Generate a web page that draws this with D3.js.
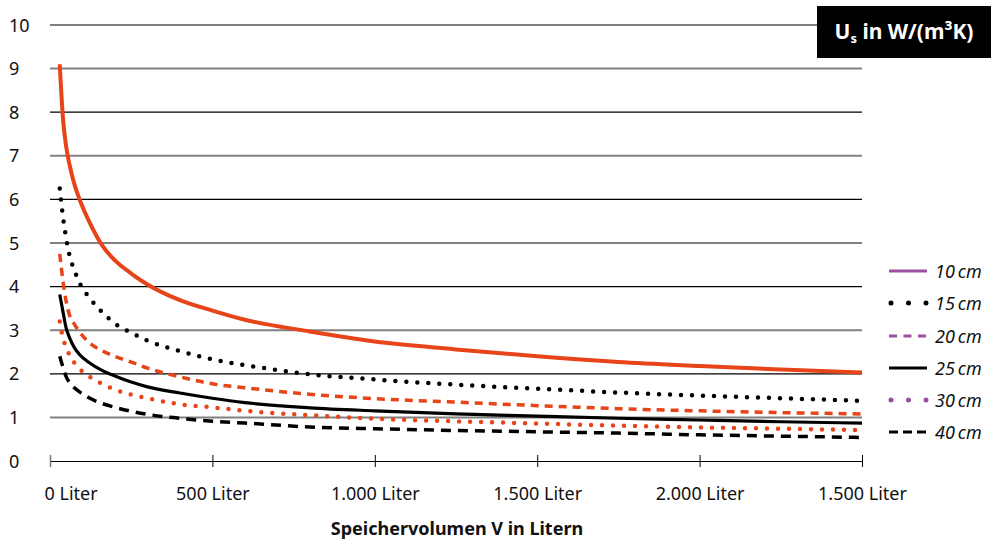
<!DOCTYPE html>
<html><head><meta charset="utf-8">
<script src="https://cdn.jsdelivr.net/npm/d3@7"></script>
<style>
body{margin:0;background:#fff;}
text{font-family:"Noto Sans","Open Sans",sans-serif;}
</style></head>
<body><svg id="c" width="991" height="540"></svg>
<script>
const volumes = [30, 40, 50, 60, 75, 90, 120, 160, 200, 250, 300, 400, 500, 600, 800, 1000, 1250, 1500, 1750, 2000, 2250, 2500];
const s10 = [9.1, 7.85, 7.2, 6.8, 6.35, 6.02, 5.5, 4.95, 4.6, 4.3, 4.05, 3.69, 3.45, 3.24, 2.97, 2.74, 2.56, 2.40, 2.27, 2.18, 2.10, 2.03];
const s15 = [6.25, 5.6, 5.1, 4.72, 4.38, 4.1, 3.76, 3.42, 3.15, 2.94, 2.76, 2.52, 2.33, 2.20, 1.99, 1.87, 1.75, 1.66, 1.57, 1.50, 1.44, 1.38];
const s20 = [4.75, 4.12, 3.65, 3.35, 3.14, 2.97, 2.72, 2.53, 2.40, 2.27, 2.13, 1.93, 1.77, 1.68, 1.53, 1.43, 1.35, 1.27, 1.20, 1.15, 1.11, 1.08];
const s25 = [3.82, 3.42, 3.04, 2.83, 2.60, 2.45, 2.26, 2.08, 1.95, 1.81, 1.70, 1.56, 1.44, 1.34, 1.22, 1.15, 1.08, 1.03, 0.98, 0.94, 0.90, 0.87];
const s30 = [3.2, 2.82, 2.60, 2.43, 2.25, 2.12, 1.94, 1.77, 1.64, 1.52, 1.44, 1.30, 1.23, 1.15, 1.05, 0.97, 0.91, 0.86, 0.81, 0.77, 0.74, 0.71];
const s40 = [2.40, 2.15, 1.93, 1.80, 1.68, 1.59, 1.45, 1.32, 1.23, 1.14, 1.07, 0.98, 0.91, 0.87, 0.78, 0.74, 0.70, 0.67, 0.64, 0.60, 0.57, 0.54];
const seriesNames = ["10 cm", "15 cm", "20 cm", "25 cm", "30 cm", "40 cm"];
const xTickValues = [0, 500, 1000, 1500, 2000, 2500];
const xTickLabels = ["0 Liter", "500 Liter", "1.000 Liter", "1.500 Liter", "2.000 Liter", "1.500 Liter"];
const yTickValues = [0,1,2,3,4,5,6,7,8,9,10];

const RED = "#e8441a", PURPLE = "#9d509f";
const styles = [
  {c: RED, w: 4, dash: null, cap: "butt", lc: PURPLE, ldash: null},
  {c: "#000", w: 4.5, dash: "0,11", cap: "round", lc: "#000", ldash: "0,17.5"},
  {c: RED, w: 3.5, dash: "8,6", cap: "butt", lc: PURPLE, ldash: "8,6.5"},
  {c: "#000", w: 3.2, dash: null, cap: "butt", lc: "#000", ldash: null},
  {c: RED, w: 4.5, dash: "0,11", cap: "round", lc: PURPLE, ldash: "0,17.5"},
  {c: "#000", w: 3.5, dash: "10,7", cap: "butt", lc: "#000", ldash: "9,5"}
];
const allSeries = [s10, s15, s20, s25, s30, s40];

const svg = d3.select("#c");
const x = d3.scaleLinear().domain([0, 2500]).range([50, 862]);
const y = d3.scaleLinear().domain([0, 10]).range([461, 25]);

// gridlines
svg.append("g").selectAll("line").data(yTickValues.filter(v => v > 0)).join("line")
  .attr("x1", x(0)).attr("x2", x(2500))
  .attr("y1", d => y(d)).attr("y2", d => y(d))
  .attr("stroke", d => d % 2 ? "#808080" : "#000")
  .attr("stroke-width", d => d % 2 ? 2 : 1.2);

// y labels
svg.append("g").selectAll("text").data(yTickValues).join("text")
  .attr("x", 9).attr("y", d => y(d) + 6.5)
  .attr("font-size", 18).attr("fill", "#111")
  .text(d => d);

// x axis
const xAxis = d3.axisBottom(x).tickValues(xTickValues)
  .tickFormat((d, i) => xTickLabels[i]).tickSizeInner(6).tickSizeOuter(0).tickPadding(20);
const gx = svg.append("g").attr("transform", `translate(0,${y(0)})`).call(xAxis);
gx.select(".domain").attr("stroke", "#000").attr("stroke-width", 1.2);
gx.selectAll(".tick line").attr("y1", -6).attr("y2", 6).attr("stroke", "#000");
gx.selectAll(".tick line").filter((d,i) => i === 0).attr("stroke", "#777").attr("stroke-width", 1.5);
gx.selectAll(".tick text").attr("font-size", 18).attr("fill", "#111")
  .attr("font-family", '"Noto Sans","Open Sans",sans-serif');
gx.selectAll(".tick text").filter((d,i) => i === 0).attr("text-anchor", "start").attr("x", -6);

svg.append("text").attr("x", 457).attr("y", 535).attr("text-anchor", "middle")
  .attr("font-size", 18).attr("font-weight", "bold").attr("fill", "#111")
  .text("Speichervolumen V in Litern");

// curves
const line = d3.line().x(d => x(d[0])).y(d => y(d[1])).curve(d3.curveMonotoneX);
allSeries.forEach((s, i) => {
  const st = styles[i];
  svg.append("path").datum(volumes.map((v, j) => [v, s[j]]))
    .attr("d", line).attr("fill", "none")
    .attr("stroke", st.c).attr("stroke-width", st.w)
    .attr("stroke-linecap", st.cap)
    .attr("stroke-dasharray", st.dash);
});

// legend
const lg = svg.append("g");
const ly = [271, 303, 336, 368, 400, 432];
seriesNames.forEach((n, i) => {
  const st = styles[i];
  const isDot = st.cap === "round";
  lg.append("line").attr("x1", isDot ? 891 : 889).attr("x2", 927)
    .attr("y1", ly[i]).attr("y2", ly[i])
    .attr("stroke", st.lc).attr("stroke-width", isDot ? 5 : 3)
    .attr("stroke-linecap", st.cap).attr("stroke-dasharray", st.ldash);
  lg.append("text").attr("x", 935).attr("y", ly[i] + 6.5)
    .attr("font-size", 18).attr("font-style", "italic").attr("fill", "#111")
    .text(n.replace(" ", "\u2009"));
});

// title box
svg.append("rect").attr("x", 817).attr("y", 6).attr("width", 174).attr("height", 52).attr("fill", "#000");
const t = svg.append("text").attr("x", 904).attr("y", 39).attr("text-anchor", "middle")
  .attr("font-size", 21).attr("font-weight", "bold").attr("fill", "#fff");
t.append("tspan").text("U");
t.append("tspan").attr("font-size", 13).attr("dy", 4).text("s");
t.append("tspan").attr("dy", -4).text(" in W/(m³K)");
</script></body></html>
